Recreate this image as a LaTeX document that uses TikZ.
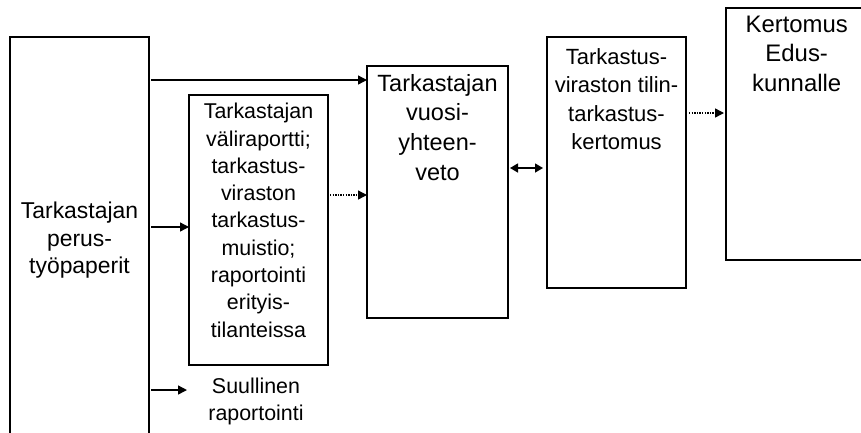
\documentclass[tikz,border=0pt]{standalone}
\usepackage{fontspec}
\setmainfont{Liberation Sans}
\usetikzlibrary{arrows.meta}
\begin{document}
\begin{tikzpicture}[x=1pt,y=-1pt,
  box/.style={draw, line width=2pt, inner sep=0pt, outer sep=0pt, anchor=north west},
  txt/.style={anchor=north, inner sep=0pt, align=center},
  arr/.style={line width=1.4pt, -{Triangle[length=9pt,width=9pt]}},
  dotarr/.style={arr, dash pattern=on 1.4pt off 1.2pt}]
\clip (0,0) rectangle (861,432);
\fill[white] (0,0) rectangle (861,432);
% boxes
\node[box, minimum width=139pt, minimum height=420pt] (perus) at (10,37) {};
\node[box, minimum width=139pt, minimum height=270pt] (vali) at (189,95) {};
\node[box, minimum width=141pt, minimum height=252pt] (vuosi) at (367,66) {};
\node[box, minimum width=139pt, minimum height=251pt] (tilin) at (547,37) {};
\node[box, minimum width=160pt, minimum height=252pt] (kert) at (726,8) {};
% texts
\node[txt, font=\fontsize{22.9}{27.7}\selectfont] (perustxt) at (79.5,201.5) {Tarkastajan\\perus-\\työpaperit};
\node[txt, font=\fontsize{21.4}{27.3}\selectfont] (valitxt) at (258.5,103) {Tarkastajan\\väliraportti;\\tarkastus-\\viraston\\tarkastus-\\muistio;\\raportointi\\erityis-\\tilanteissa};
\node[txt, font=\fontsize{23.5}{29.7}\selectfont] (vuositxt) at (437.5,74) {Tarkastajan\\vuosi-\\yhteen-\\veto};
\node[txt, font=\fontsize{22}{28.3}\selectfont] (tilintxt) at (616.5,48.5) {Tarkastus-\\viraston tilin-\\tarkastus-\\kertomus};
\node[txt, font=\fontsize{23.9}{29.5}\selectfont] (kerttxt) at (796.7,15.5) {Kertomus\\Edus-\\kunnalle};
\node[txt, font=\fontsize{21.4}{27}\selectfont] (suul) at (256,377.6) {Suullinen\\raportointi};
% connectors
\coordinate (suulin) at (187,390);
\draw[arr, shorten <=2pt] (perus.east |- 0,80) -- (vuosi.west |- 0,80);
\draw[arr, shorten <=2pt] (perus.east |- 0,227) -- (vali.west |- 0,227);
\draw[arr, shorten <=2pt] (perus.east |- 0,390) -- (suulin);
\draw[dotarr, shorten <=2pt] (vali.east |- 0,195) -- (vuosi.west |- 0,195);
\draw[line width=1.4pt, {Triangle[length=8pt,width=9pt]}-{Triangle[length=8pt,width=9pt]}, shorten <=2pt, shorten >=4pt] (vuosi.east |- 0,168) -- (tilin.west |- 0,168);
\draw[dotarr, shorten <=3pt, shorten >=2pt] (tilin.east |- 0,113) -- (kert.west |- 0,113);
\end{tikzpicture}
\end{document}
